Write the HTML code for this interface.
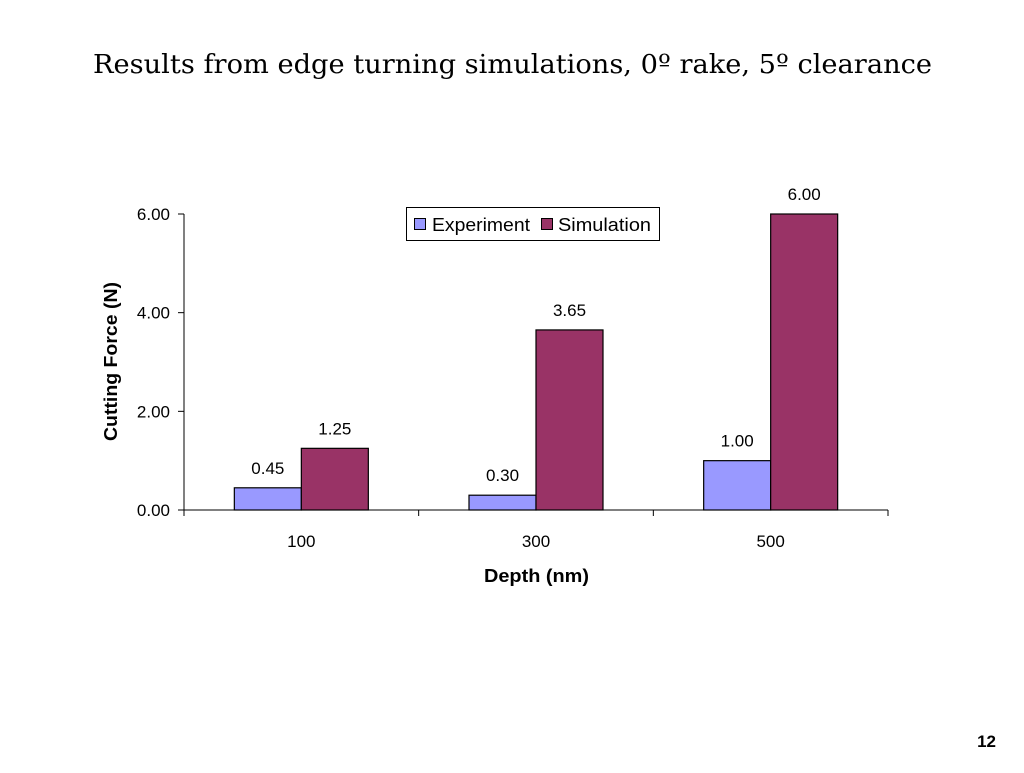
<!DOCTYPE html>
<html><head><meta charset="utf-8"><style>
body{margin:0;background:#fff;width:1024px;height:768px;overflow:hidden;font-family:"Liberation Sans",sans-serif}
</style></head><body>
<svg width="1024" height="768">
<text x="93" y="73" font-family="DejaVu Serif, Liberation Serif, serif" font-size="26" textLength="839" lengthAdjust="spacingAndGlyphs">Results from edge turning simulations, 0º rake, 5º clearance</text>
<text x="996" y="747" text-anchor="end" font-size="17" font-weight="bold">12</text>
<g id="plot"></g>
<text x="484" y="582" font-size="18" font-weight="bold" textLength="105" lengthAdjust="spacingAndGlyphs">Depth (nm)</text>
<text transform="translate(117,441) rotate(-90)" font-size="18" font-weight="bold" textLength="159" lengthAdjust="spacingAndGlyphs">Cutting Force (N)</text>
<g>
<rect x="406.5" y="207.5" width="253" height="33" fill="#fff" stroke="#000"/>
<rect x="414.5" y="218.5" width="11" height="11" fill="#9999ff" stroke="#000"/>
<text x="432" y="231" font-size="18" textLength="98" lengthAdjust="spacingAndGlyphs">Experiment</text>
<rect x="541.5" y="218.5" width="11" height="11" fill="#993366" stroke="#000"/>
<text x="558" y="231" font-size="18" textLength="93" lengthAdjust="spacingAndGlyphs">Simulation</text>
</g>
</svg>
<script>
const categories=["100","300","500"];
const experiment=[0.45,0.30,1.00];
const simulation=[1.25,3.65,6.00];
const yTicks=[0,2,4,6];
const yTickLabels=["0.00","2.00","4.00","6.00"];
const ns="http://www.w3.org/2000/svg";
const g=document.getElementById('plot');
const x0=184,x1=888,yZero=510,yTop=214,yMax=6;
const y=v=>yZero-(v/yMax)*(yZero-yTop);
const cw=(x1-x0)/categories.length;
const bw=67;
function mk(t,a){const e=document.createElementNS(ns,t);for(const k in a)e.setAttribute(k,a[k]);g.appendChild(e);return e;}
let ax=mk('line',{x1:x0,y1:yTop,x2:x0,y2:yZero,stroke:'#000'});


let xa=mk('line',{x1:x0-6,y1:yZero,x2:x1,y2:yZero,stroke:'#000'});


yTicks.forEach((v,i)=>{
 mk('line',{x1:x0-6,y1:y(v),x2:x0,y2:y(v),stroke:'#000'});
 const t=mk('text',{x:x0-14,y:y(v)+6,'text-anchor':'end','font-size':17});
 t.textContent=yTickLabels[i];
 
 
});
for(let i=0;i<=categories.length;i++){mk('line',{x1:x0+i*cw,y1:yZero,x2:x0+i*cw,y2:yZero+6,stroke:'#000'});}
categories.forEach((c,i)=>{
 const cx=x0+cw*(i+0.5);
 const t=mk('text',{x:cx,y:547,'text-anchor':'middle','font-size':17});
 t.textContent=c;
 
 
 [[experiment[i],cx-bw,'#9999ff','experiment'],[simulation[i],cx,'#993366','simulation']].forEach(([v,bx,col,nm])=>{
  const r=mk('rect',{x:bx,y:y(v),width:bw,height:yZero-y(v),fill:col,stroke:'#000','stroke-width':1.2});
  
  
  const l=mk('text',{x:bx+bw/2,y:y(v)-14,'text-anchor':'middle','font-size':17});
  l.textContent=v.toFixed(2);
  
  
 });
});
</script>
</body></html>
